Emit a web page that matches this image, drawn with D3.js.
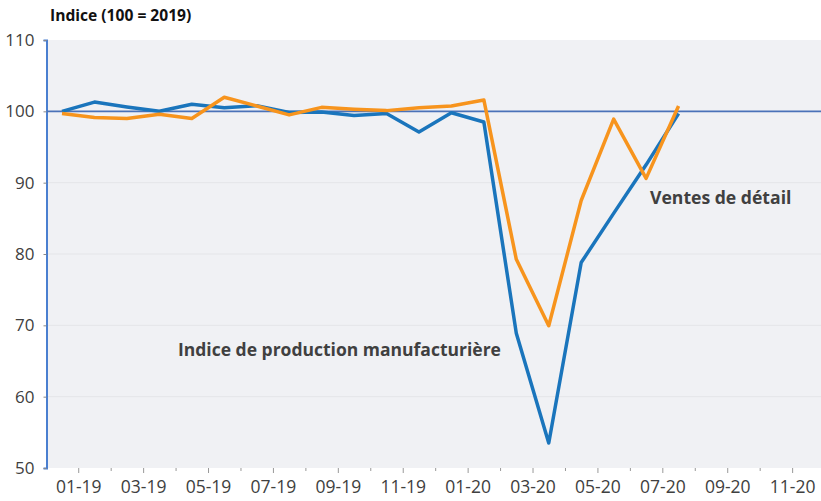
<!DOCTYPE html>
<html><head><meta charset="utf-8">
<script src="https://cdn.jsdelivr.net/npm/d3@7/dist/d3.min.js"></script>
<style>body{margin:0;background:#fff}svg{display:block}</style>
</head><body>
<svg id="c" width="821" height="501"></svg>
<script>
const months = ["01-19","02-19","03-19","04-19","05-19","06-19","07-19","08-19","09-19","10-19","11-19","12-19",
"01-20","02-20","03-20","04-20","05-20","06-20","07-20","08-20","09-20","10-20","11-20"];
const production = [100.0,101.3,100.6,100.0,101.0,100.5,100.8,99.85,99.9,99.4,99.7,97.1,99.8,98.5,68.9,53.5,78.8,85.7,92.5,99.7];
const ventes = [99.7,99.15,99.0,99.6,99.0,101.97,100.75,99.5,100.56,100.3,100.1,100.5,100.75,101.6,79.25,69.95,87.5,98.9,90.6,100.75];
const yTicks = [50,60,70,80,90,100,110];
const labelProduction = "Indice de production manufacturière";
const labelVentes = "Ventes de détail";
const yTitle = "Indice (100 = 2019)";

const svg = d3.select("#c");
const pLeft = 47, pRight = 821, pTop = 40, pBottom = 468;
const x = d3.scaleLinear().domain([0, 22.5]).range([62, 62 + 32.45*22.5]);
const y = d3.scaleLinear().domain([50,110]).range([pBottom, pTop]);
const font = "'Open Sans', sans-serif";

svg.append("rect").attr("x",pLeft).attr("y",pTop).attr("width",pRight-pLeft).attr("height",pBottom-pTop).attr("fill","#f0f1f4");

svg.append("g").selectAll("line").data(yTicks.filter(d=>d>50 && d<100)).join("line")
  .attr("x1",pLeft).attr("x2",pRight).attr("y1",d=>y(d)).attr("y2",d=>y(d))
  .attr("stroke","#e4e5e8").attr("stroke-width",1);

const ya = svg.append("g").attr("transform",`translate(${pLeft-0.5},0)`)
  .call(d3.axisLeft(y).tickValues(yTicks).tickSize(3).tickPadding(9).tickFormat(d3.format("d")));
ya.select(".domain").attr("stroke","#4a7fd0").attr("stroke-width",2);
ya.selectAll(".tick line").attr("stroke","#888");
ya.selectAll("text").attr("font-family",font).attr("font-size",17).attr("fill","#404040");

const tickIdx = months.map((m,i)=>i+0.5);
const xa = svg.append("g").attr("transform",`translate(0,${pBottom})`)
  .call(d3.axisBottom(x).tickValues(tickIdx).tickSize(3).tickPadding(10)
    .tickFormat((d,i)=> i%2===0 ? months[i] : ""));
xa.select(".domain").remove();
xa.selectAll(".tick line").attr("stroke","#999").attr("y2",(d,i)=> i%2===0?5:3);
xa.selectAll("text").attr("font-family",font).attr("font-size",17.5).attr("fill","#404040");

svg.append("line").attr("x1",pLeft).attr("x2",pRight).attr("y1",y(100)).attr("y2",y(100))
  .attr("stroke","#4a72b8").attr("stroke-width",1.6);

const line = d3.line().x((d,i)=>x(i)).y(d=>y(d));
svg.append("path").datum(production).attr("d",line).attr("fill","none")
  .attr("stroke","#1a75bc").attr("stroke-width",3.5).attr("stroke-linejoin","round");
svg.append("path").datum(ventes).attr("d",line).attr("fill","none")
  .attr("stroke","#f7941d").attr("stroke-width",3.5).attr("stroke-linejoin","round");

svg.append("text").attr("x",50).attr("y",21).text(yTitle)
  .attr("font-family",font).attr("font-weight",700).attr("font-size",15.6).attr("fill","#111");
svg.append("text").attr("x",178).attr("y",356).text(labelProduction)
  .attr("font-family",font).attr("font-weight",700).attr("font-size",17.5).attr("fill","#404040");
svg.append("text").attr("x",650).attr("y",204).text(labelVentes)
  .attr("font-family",font).attr("font-weight",700).attr("font-size",17.6).attr("fill","#404040");
</script>
</body></html>
